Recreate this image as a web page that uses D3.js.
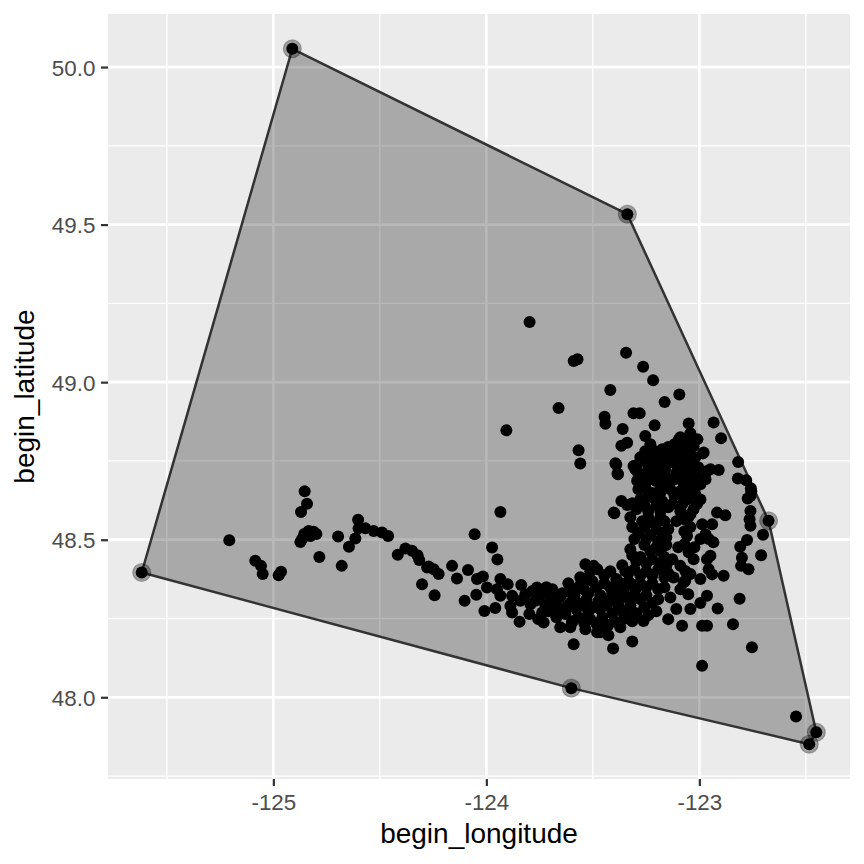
<!DOCTYPE html>
<html><head><meta charset="utf-8">
<script src="https://cdn.jsdelivr.net/npm/d3@7"></script>
<style>
body{margin:0;background:#fff}
svg{display:block}
text{font-family:"Liberation Sans",Arial,Helvetica,sans-serif}
</style>
</head><body>
<svg id="chart" width="864" height="864"></svg>
<script>
// begin_longitude / begin_latitude pairs
const hullCandidates = [
  [-125.618,48.396],[-124.911,50.058],[-123.338,49.533],[-122.675,48.560],
  [-122.451,47.889],[-122.484,47.851],[-123.601,48.029]
];
const westArm = [
  [-125.207,48.498],[-124.853,48.654],[-124.842,48.614],[-124.870,48.588],[-124.834,48.528],
  [-124.811,48.525],[-124.855,48.518],[-124.865,48.502],[-124.826,48.512],[-124.798,48.518],
  [-124.873,48.493],[-124.784,48.445],[-125.085,48.433],[-125.058,48.417],[-125.050,48.391],
  [-124.964,48.398],[-124.975,48.387],[-124.696,48.510],[-124.679,48.417],[-124.645,48.478],
  [-124.615,48.504],[-124.602,48.563],[-124.600,48.536],[-124.568,48.536],[-124.529,48.528],
  [-124.490,48.523],[-124.461,48.512],[-124.416,48.452],[-124.380,48.472],[-124.349,48.465],
  [-124.323,48.451],[-124.315,48.436],[-124.278,48.412],[-124.302,48.359],[-124.271,48.415],
  [-124.247,48.406],[-124.224,48.391],[-124.243,48.324],[-124.161,48.417],[-124.138,48.377],
  [-124.102,48.306],[-124.086,48.404],[-124.055,48.517],[-124.047,48.325],[-124.044,48.375],
  [-124.016,48.383],[-124.009,48.274],[-123.958,48.283],[-123.997,48.348],[-123.950,48.343],
  [-123.973,48.475],[-123.948,48.437],[-123.934,48.588],[-123.934,48.375],[-123.900,48.359],
  [-123.934,48.322],[-123.879,48.322],[-123.887,48.290],[-123.879,48.269],[-123.844,48.240],
  [-123.836,48.356],[-123.840,48.306],[-123.798,48.264],[-123.762,48.348],[-123.770,48.306],
  [-123.738,48.269],[-123.731,48.237],[-123.715,48.327],[-123.684,48.301],[-123.661,48.264],
  [-123.629,48.285],[-123.606,48.333],[-123.598,48.237],[-123.574,48.301],[-123.590,48.168],
  [-123.543,48.343],[-123.527,48.375],[-123.496,48.417],[-123.520,48.280],[-123.480,48.206],
  [-123.543,48.248],[-123.817,48.327],[-123.793,48.295],[-123.709,48.273],[-123.756,48.248],
  [-123.653,48.222]
];
const northGroup = [
  [-123.797,49.191],[-123.590,49.067],[-123.572,49.073],[-123.344,49.093],[-123.264,49.049],
  [-123.217,49.006],[-123.418,48.975],[-123.094,48.961],[-123.163,48.937],[-123.661,48.918],
  [-123.445,48.890],[-123.441,48.868],[-123.309,48.901],[-123.280,48.901],[-123.210,48.863],
  [-123.050,48.869],[-123.906,48.847],[-123.360,48.851],[-123.254,48.829],[-123.339,48.808],
  [-123.366,48.798],[-123.567,48.784],[-123.559,48.742],[-123.394,48.743],[-123.384,48.710],
  [-123.309,48.734],[-123.293,48.718],[-123.097,48.817],[-123.058,48.808],[-123.027,48.797],
  [-123.081,48.777],[-123.042,48.766],[-123.121,48.745],[-123.066,48.740],[-123.027,48.729],
  [-123.215,48.713],[-123.168,48.718],[-123.105,48.713],[-123.050,48.713],
  [-123.089,48.825],[-123.042,48.838],[-123.009,48.819],[-123.230,48.803],[-123.254,48.781],
  [-123.042,48.794],[-123.019,48.762],[-123.052,48.740]
];
const eastGroup = [
  [-122.933,48.872],[-122.898,48.822],[-122.818,48.747],[-122.819,48.694],[-122.780,48.689],
  [-122.758,48.663],[-122.756,48.654],[-122.773,48.631],[-122.760,48.639],[-122.760,48.591],
  [-122.764,48.565],[-122.760,48.544],[-122.701,48.516],[-122.776,48.499],[-122.808,48.478],
  [-122.800,48.443],[-122.804,48.417],[-122.769,48.406],[-122.710,48.451],[-122.917,48.586],
  [-122.878,48.578],[-122.948,48.724],[-122.909,48.721],[-122.983,48.774],[-122.995,48.375],
  [-122.886,48.386],[-122.811,48.313],[-122.914,48.282],[-122.995,48.299],[-122.964,48.322],
  [-123.081,48.227],[-122.987,48.227],[-122.964,48.227],[-122.842,48.232],[-122.753,48.159],
  [-122.987,48.100],[-123.315,48.177],[-123.405,48.155],[-123.465,48.206],[-123.399,48.584],
  [-123.366,48.623],[-123.339,48.610],[-122.546,47.939],[-123.058,48.512],[-123.050,48.460],
  [-123.027,48.438],[-123.066,48.401],[-123.066,48.370],[-122.956,48.406],[-122.940,48.390],
  [-122.964,48.438],[-122.948,48.449],[-122.940,48.549],[-122.987,48.549],[-122.971,48.517],
  [-122.956,48.502],[-122.995,48.502],[-123.011,48.613],[-123.027,48.597],[-123.011,48.671],
  [-122.995,48.676],[-122.964,48.718],[-122.971,48.692],[-122.980,48.777],[-123.390,48.739],
  [-123.382,48.708],[-123.300,48.724],[-123.292,48.687],[-123.402,48.586],[-123.058,48.628],
  [-122.934,48.492],[-123.089,48.417],[-123.074,48.364],[-123.136,48.317],[-123.121,48.380],
  [-123.262,48.242],[-123.355,48.248],
  [-123.080,48.613],[-123.070,48.565],[-123.042,48.540],[-123.070,48.486],[-123.042,48.391],
  [-123.089,48.343],[-123.042,48.581],[-123.070,48.527],[-123.023,48.476],[-123.099,48.476],
  [-123.052,48.327],[-123.108,48.280],[-123.146,48.248],[-123.042,48.280]
];
const coreGroup = [
  [-123.277,48.762],[-123.240,48.771],[-123.207,48.781],[-123.174,48.787],[-123.146,48.794],
  [-123.117,48.803],[-123.089,48.787],[-123.127,48.762],[-123.164,48.749],[-123.202,48.736],
  [-123.240,48.724],[-123.268,48.705],[-123.230,48.692],[-123.193,48.705],[-123.155,48.698],
  [-123.117,48.692],[-123.080,48.686],[-123.042,48.692],[-123.014,48.705],[-123.183,48.673],
  [-123.136,48.660],[-123.089,48.654],[-123.042,48.654],[-123.254,48.667],[-123.221,48.648],
  [-123.160,48.724],[-123.099,48.730],[-123.052,48.667],[-123.019,48.644],[-122.995,48.628],
  [-123.277,48.628],[-123.221,48.635],[-123.174,48.622],[-123.296,48.597],[-123.240,48.590],
  [-123.183,48.590],[-123.268,48.559],[-123.211,48.552],[-123.164,48.559],[-123.286,48.521],
  [-123.230,48.514],[-123.174,48.521],[-123.258,48.483],[-123.202,48.476],[-123.155,48.483],
  [-123.277,48.445],[-123.221,48.438],[-123.164,48.445],[-123.305,48.406],[-123.249,48.400],
  [-123.193,48.406],[-123.146,48.394],[-123.333,48.368],[-123.277,48.362],[-123.221,48.362],
  [-123.164,48.349],[-123.362,48.330],[-123.305,48.324],[-123.249,48.324],[-123.193,48.311],
  [-123.324,48.292],[-123.258,48.286],[-123.202,48.273],[-123.380,48.292],[-123.347,48.400],
  [-123.315,48.451],[-123.127,48.613],[-123.089,48.590],[-123.052,48.571],[-123.108,48.559],
  [-123.146,48.533],[-123.127,48.438],[-123.155,48.419],
  [-123.535,48.422],[-123.479,48.406],[-123.418,48.400],[-123.362,48.419],[-123.559,48.381],
  [-123.502,48.368],[-123.446,48.362],[-123.390,48.375],[-123.333,48.356],[-123.582,48.343],
  [-123.521,48.330],[-123.465,48.324],[-123.409,48.330],[-123.352,48.318],[-123.606,48.299],
  [-123.549,48.292],[-123.493,48.286],[-123.437,48.292],[-123.380,48.280],[-123.629,48.264],
  [-123.568,48.254],[-123.512,48.248],[-123.455,48.254],[-123.399,48.241],[-123.343,48.260],
  [-123.653,48.318],[-123.690,48.343],[-123.723,48.292],[-123.671,48.254],[-123.474,48.222],
  [-123.427,48.197],[-123.535,48.216],[-123.606,48.222],[-123.300,48.343],[-123.315,48.241]
];
const coreFill = [
  [-123.296,48.736],[-123.258,48.749],[-123.221,48.755],[-123.183,48.768],[-123.146,48.774],
  [-123.108,48.781],[-123.070,48.768],[-123.033,48.749],[-123.005,48.730],[-123.061,48.717],
  [-123.108,48.711],[-123.146,48.679],[-123.202,48.686],[-123.249,48.692],[-123.286,48.660],
  [-123.240,48.641],[-123.183,48.648],[-123.117,48.641],[-123.070,48.635],[-123.023,48.673],
  [-122.995,48.692],[-123.174,48.736],[-123.136,48.749],[-123.080,48.749],[-123.033,48.724],
  [-123.315,48.616],[-123.258,48.609],[-123.202,48.609],[-123.146,48.603],[-123.324,48.571],
  [-123.240,48.571],[-123.183,48.571],[-123.315,48.540],[-123.258,48.540],[-123.202,48.533],
  [-123.155,48.508],[-123.305,48.502],[-123.249,48.502],[-123.193,48.495],[-123.324,48.470],
  [-123.230,48.464],[-123.183,48.464],[-123.296,48.432],[-123.249,48.425],[-123.183,48.425],
  [-123.333,48.394],[-123.277,48.387],[-123.221,48.387],[-123.164,48.381],[-123.371,48.362],
  [-123.305,48.356],[-123.249,48.349],[-123.193,48.343],[-123.390,48.324],[-123.333,48.318],
  [-123.277,48.311],[-123.221,48.299],[-123.362,48.273],[-123.296,48.267],[-123.240,48.260],
  [-123.418,48.305],
  [-123.512,48.400],[-123.446,48.387],[-123.615,48.362],[-123.559,48.356],[-123.484,48.349],
  [-123.418,48.349],[-123.371,48.343],[-123.643,48.330],[-123.587,48.324],[-123.530,48.311],
  [-123.474,48.305],[-123.418,48.311],[-123.671,48.292],[-123.624,48.286],[-123.578,48.280],
  [-123.521,48.273],[-123.465,48.280],[-123.409,48.267],[-123.596,48.241],[-123.540,48.235],
  [-123.484,48.235],[-123.427,48.229],[-123.371,48.222],[-123.700,48.318],[-123.747,48.324],
  [-123.784,48.337],[-123.718,48.349]
];
const xTicks = [-125, -124, -123];
const xTickLabels = ["-125", "-124", "-123"];
const yTicks = [48.0, 48.5, 49.0, 49.5, 50.0];
const yTickLabels = ["48.0", "48.5", "49.0", "49.5", "50.0"];
const xTitle = "begin_longitude";
const yTitle = "begin_latitude";

const data = [].concat(hullCandidates, westArm, northGroup, eastGroup, coreGroup, coreFill);

const W = 864, H = 864;
const panel = {left: 108, right: 850, top: 14, bottom: 779};

function expand(ext, f) { const d = (ext[1] - ext[0]) * f; return [ext[0] - d, ext[1] + d]; }
const xDom = expand(d3.extent(data, d => d[0]), 0.05);
const yDom = expand(d3.extent(data, d => d[1]), 0.05);
const x = d3.scaleLinear().domain(xDom).range([panel.left, panel.right]);
const y = d3.scaleLinear().domain(yDom).range([panel.bottom, panel.top]);

const svg = d3.select("#chart");
svg.append("rect").attr("width", W).attr("height", H).attr("fill", "#fff");
svg.append("rect").attr("x", panel.left).attr("y", panel.top)
  .attr("width", panel.right - panel.left).attr("height", panel.bottom - panel.top)
  .attr("fill", "#EBEBEB");

function minorBreaks(major, dom) {
  const step = major[1] - major[0];
  const b = [major[0] - step, ...major, major[major.length - 1] + step];
  const out = [];
  for (let i = 0; i < b.length - 1; i++) {
    const m = (b[i] + b[i + 1]) / 2;
    if (m >= dom[0] && m <= dom[1]) out.push(m);
  }
  return out;
}
const g = svg.append("g");
g.selectAll(".vmin").data(minorBreaks(xTicks, xDom)).join("line")
  .attr("x1", d => x(d)).attr("x2", d => x(d)).attr("y1", panel.top).attr("y2", panel.bottom)
  .attr("stroke", "#fff").attr("stroke-width", 1.35);
g.selectAll(".hmin").data(minorBreaks(yTicks, yDom)).join("line")
  .attr("y1", d => y(d)).attr("y2", d => y(d)).attr("x1", panel.left).attr("x2", panel.right)
  .attr("stroke", "#fff").attr("stroke-width", 1.35);
g.selectAll(".vmaj").data(xTicks).join("line")
  .attr("x1", d => x(d)).attr("x2", d => x(d)).attr("y1", panel.top).attr("y2", panel.bottom)
  .attr("stroke", "#fff").attr("stroke-width", 2.7);
g.selectAll(".hmaj").data(yTicks).join("line")
  .attr("y1", d => y(d)).attr("y2", d => y(d)).attr("x1", panel.left).attr("x2", panel.right)
  .attr("stroke", "#fff").attr("stroke-width", 2.7);

// convex hull
const pix = data.map(d => [x(d[0]), y(d[1])]);
const hull = d3.polygonHull(pix);
svg.append("path")
  .attr("d", "M" + hull.map(p => p.join(",")).join("L") + "Z")
  .attr("fill", "#000").attr("fill-opacity", 0.28)
  .attr("stroke", "#333333").attr("stroke-width", 2.5).attr("stroke-linejoin", "round");

// points
svg.append("g").selectAll("circle").data(data).join("circle")
  .attr("cx", d => x(d[0])).attr("cy", d => y(d[1])).attr("r", 6).attr("fill", "#000");

// hull vertices highlighted
svg.append("g").selectAll("circle").data(hull).join("circle")
  .attr("cx", d => d[0]).attr("cy", d => d[1]).attr("r", 9)
  .attr("fill", "#000").attr("fill-opacity", 0.33)
  .attr("stroke", "#000").attr("stroke-opacity", 0.25).attr("stroke-width", 1.2);

// axes
const xAxis = svg.append("g").attr("transform", `translate(0,${panel.bottom})`)
  .call(d3.axisBottom(x).tickValues(xTicks).tickFormat((d, i) => xTickLabels[i]).tickSize(7).tickPadding(0));
xAxis.select(".domain").remove();
xAxis.selectAll(".tick line").attr("stroke", "#333333").attr("stroke-width", 2.2);
xAxis.selectAll(".tick text").attr("fill", "#4D4D4D").attr("font-size", 22.4)
  .attr("font-family", "Liberation Sans, Arial, sans-serif").attr("y", 31).attr("dy", 0);

const yAxis = svg.append("g").attr("transform", `translate(${panel.left},0)`)
  .call(d3.axisLeft(y).tickValues(yTicks).tickFormat((d, i) => yTickLabels[i]).tickSize(7).tickPadding(0));
yAxis.select(".domain").remove();
yAxis.selectAll(".tick line").attr("stroke", "#333333").attr("stroke-width", 2.2);
yAxis.selectAll(".tick text").attr("fill", "#4D4D4D").attr("font-size", 22.4)
  .attr("font-family", "Liberation Sans, Arial, sans-serif").attr("x", -12.6).attr("dy", 8.2);

svg.append("text").attr("x", (panel.left + panel.right) / 2).attr("y", 843)
  .attr("text-anchor", "middle").attr("font-size", 28).attr("fill", "#000").text(xTitle);
svg.append("text").attr("transform", `translate(34,${(panel.top + panel.bottom) / 2}) rotate(-90)`)
  .attr("text-anchor", "middle").attr("font-size", 28).attr("fill", "#000").text(yTitle);
</script>
</body></html>
